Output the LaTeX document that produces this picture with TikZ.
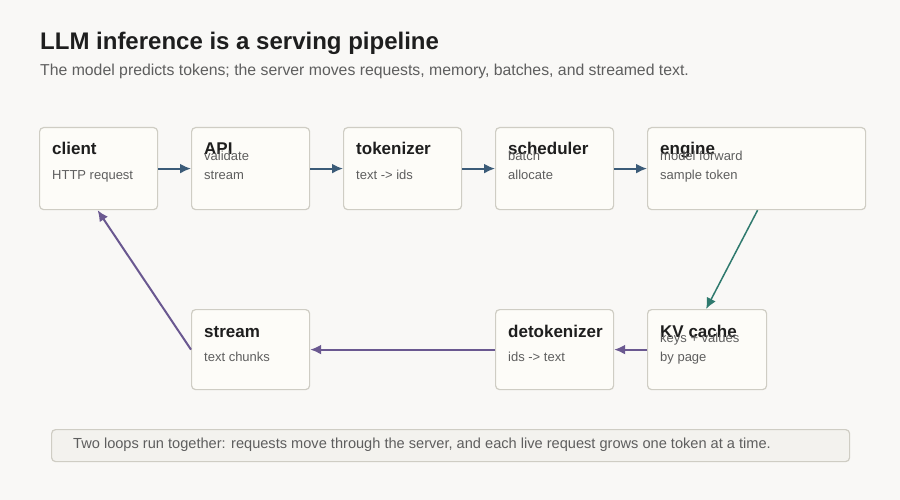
\documentclass[tikz,border=0pt]{standalone}
\usepackage{fontspec}
\setmainfont{Liberation Sans}
\usetikzlibrary{arrows.meta}
\definecolor{bgc}{HTML}{F9F8F6}
\definecolor{boxc}{HTML}{FDFCF8}
\definecolor{edgec}{HTML}{CFCDC4}
\definecolor{bluec}{HTML}{3B5B78}
\definecolor{tealc}{HTML}{2F7A6E}
\definecolor{purc}{HTML}{6A5890}
\definecolor{txtc}{HTML}{1E1E1E}
\definecolor{subc}{HTML}{5E5E5E}
\tikzset{
  stage/.style={draw=edgec, line width=1.2pt, fill=boxc, rounded corners=4pt},
  head/.style={anchor=base west, font=\fontsize{17}{20}\selectfont\bfseries, text=txtc, inner sep=0},
  sub/.style={anchor=base west, font=\fontsize{13}{19}\selectfont, text=subc, inner sep=0, align=left},
  flow/.style={line width=2pt, -{Latex[length=11pt,width=10pt]}}
}
\begin{document}
\begin{tikzpicture}[x=1pt,y=-1pt]
  \fill[bgc] (0,0) rectangle (900,500);
  \useasboundingbox (0,0) rectangle (900,500);

  \node[anchor=west, font=\fontsize{24}{27}\selectfont\bfseries, text=txtc, inner sep=0] (title) at (40,43) {LLM inference is a serving pipeline};
  \node[anchor=west, font=\fontsize{15.8}{18}\selectfont, text=subc, inner sep=0] (subtitle) at (40,71) {The model predicts tokens; the server moves requests, memory, batches, and streamed text.};

  % top row
  \foreach \n/\xa/\xb/\h/\s in {client/39/157/client/HTTP request,
      api/191/309/API/validate\\stream,
      tok/343/461/tokenizer/text -> ids,
      sched/495/613/scheduler/batch\\allocate,
      engine/647/865/engine/model forward\\sample token} {
    \node[stage, minimum width={(\xb-\xa)*1pt}, minimum height=82pt, anchor=north west] (\n) at (\xa,127) {};
    \node[head] (\n-h) at (\xa+13,155) {\h};
    \node[sub] (\n-s) at (\xa+13,179) {\s};
  }
  % bottom row
  \foreach \n/\xa/\xb/\h/\s in {stream/191/309/stream/text chunks,
      detok/495/613/detokenizer/ids -> text,
      kv/647/766/KV cache/keys + values\\by page} {
    \node[stage, minimum width={(\xb-\xa)*1pt}, minimum height=80pt, anchor=north west] (\n) at (\xa,309) {};
    \node[head] (\n-h) at (\xa+13,337) {\h};
    \node[sub] (\n-s) at (\xa+13,361) {\s};
  }

  \draw[flow, bluec] (client.east) -- (api.west);
  \draw[flow, bluec] (api.east) -- (tok.west);
  \draw[flow, bluec] (tok.east) -- (sched.west);
  \draw[flow, bluec] (sched.east) -- (engine.west);
  \draw[flow, tealc, line width=1.5pt] (engine.south) ++(1,0) coordinate (e1) (e1) -- ([xshift=-1pt]kv.north);
  \draw[flow, purc] (kv.west) -- (detok.west -| detok.east);
  \draw[flow, purc] (detok.west) -- (stream.east);
  \draw[flow, purc] (stream.west) -- ([xshift=-1pt]client.south);

  \node[draw=edgec, line width=1.2pt, fill=boxc!60!edgec!40!bgc, rounded corners=4pt, minimum width=798pt, minimum height=32pt, anchor=north west] (note) at (51,429) {};
  \node[anchor=west, font=\fontsize{14.6}{17}\selectfont, text=subc, inner sep=0] (note-t) at (73,445) {Two loops run together: requests move through the server, and each live request grows one token at a time.};
\end{tikzpicture}
\end{document}
